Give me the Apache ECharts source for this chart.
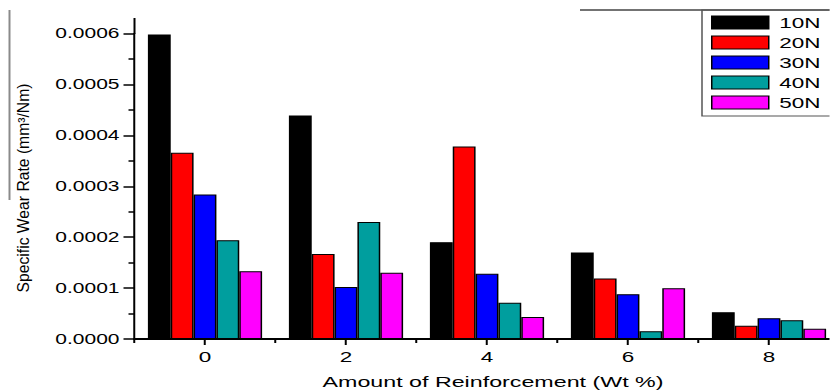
<!DOCTYPE html>
<html><head><meta charset="utf-8">
<script src="https://cdn.jsdelivr.net/npm/echarts@6/dist/echarts.min.js"></script>
<style>
html,body{margin:0;padding:0;background:#fff;overflow:hidden;width:830px;height:392px;}
#chart{width:553.333px;height:392px;transform:scaleX(1.5);transform-origin:0 0;}
</style></head><body><div id="chart"></div>
<script>
// ---- data ----
const categories = ['0', '2', '4', '6', '8'];
const seriesNames = ['10N', '20N', '30N', '40N', '50N'];
const load10N = [0.000598, 0.000439, 0.000190, 0.000170, 0.0000524];
const load20N = [0.000366, 0.000167, 0.000378, 0.000119, 0.0000261];
const load30N = [0.000284, 0.000102, 0.000128, 0.0000878, 0.0000407];
const load40N = [0.000194, 0.000230, 0.0000713, 0.0000151, 0.0000367];
const load50N = [0.000133, 0.000130, 0.0000432, 0.0000996, 0.0000202];
const yMin = 0, yMax = 0.0006, yStep = 0.0001;
const xTitle = 'Amount of Reinforcement (Wt %)';
const yTitle = 'Specific Wear Rate (mm³/Nm)';
const colors = ['#000000', '#ff0000', '#0000ff', '#009e9e', '#ff00ff'];

// ---- rendering ----
const SX = 1.5; // horizontal stretch of the reference picture
const FF = '"Liberation Sans", Arial, sans-serif';
const allData = [load10N, load20N, load30N, load40N, load50N];

const chart = echarts.init(document.getElementById('chart'), null, {renderer: 'svg'});

const series = seriesNames.map((n, i) => ({
  name: n,
  type: 'bar',
  data: allData[i],
  barGap: '0%',
  barCategoryGap: '19%',
  itemStyle: {color: colors[i], borderColor: '#000', borderWidth: 1},
  emphasis: {disabled: true}
}));

chart.setOption({
  animation: false,
  backgroundColor: '#fff',
  grid: {left: 134.5 / SX, width: 705 / SX, top: 33.5, height: 305.5, containLabel: false, outerBoundsMode: 'none'},
  legend: {
    orient: 'vertical', left: 702 / SX, top: 10,
    padding: [5, 20, 6, 6],
    itemWidth: 57 / SX, itemHeight: 13, itemGap: 5,
    icon: 'rect',
    borderColor: '#555', borderWidth: 1,
    itemStyle: {borderColor: '#000', borderWidth: 1},
    textStyle: {fontSize: 15, fontFamily: FF, color: '#000', lineHeight: 13, padding: [0, 0, 0, 2]},
    data: seriesNames
  },
  xAxis: [{
    type: 'category', data: categories, position: 'bottom', boundaryGap: true,
    axisLine: {show: true, lineStyle: {color: '#000', width: 2}},
    axisTick: {show: true, alignWithLabel: true, interval: 0, length: 6, lineStyle: {color: '#000', width: 2 / SX}},
    axisLabel: {show: true, interval: 0, margin: 10, fontSize: 15, color: '#000', fontFamily: FF},
    splitLine: {show: false},
    name: xTitle, nameLocation: 'middle', nameGap: 35,
    nameTextStyle: {fontSize: 15.5, color: '#000', fontFamily: FF, padding: [0, 0, 0, 8]}
  }, {
    type: 'category', data: categories, position: 'bottom', boundaryGap: true,
    axisLine: {show: false},
    axisTick: {show: true, interval: 0, length: 4, lineStyle: {color: '#000', width: 2 / SX}},
    axisLabel: {show: false},
    splitLine: {show: false}
  }],
  yAxis: {
    type: 'value', min: yMin, max: yMax, interval: yStep, position: 'left',
    axisLine: {show: true, lineStyle: {color: '#000', width: 2 / SX}},
    axisTick: {show: true, length: 11 / SX, lineStyle: {color: '#000', width: 1.5}},
    minorTick: {show: true, splitNumber: 2, length: 6 / SX, lineStyle: {color: '#000', width: 1.5}},
    axisLabel: {margin: 15 / SX, fontSize: 14, color: '#000', fontFamily: FF, formatter: v => v.toFixed(4)},
    splitLine: {show: false},
    minorSplitLine: {show: false}
  },
  graphic: [
    {type: 'text', x: 23 / SX, y: 188, rotation: Math.PI / 2, scaleY: 1 / SX,
     style: {text: yTitle, fontSize: 15.7, fontFamily: FF, fill: '#000', align: 'center', verticalAlign: 'middle'}},
    {type: 'line', shape: {x1: 9.5 / SX, y1: 10, x2: 9.5 / SX, y2: 200}, style: {stroke: '#8a8a8a', lineWidth: 2 / SX}},
    {type: 'line', shape: {x1: 580 / SX, y1: 10, x2: 830 / SX, y2: 10}, style: {stroke: '#444', lineWidth: 1.5}},
    {type: 'line', shape: {x1: 134.5 / SX, y1: 18, x2: 134.5 / SX, y2: 34}, style: {stroke: '#000', lineWidth: 2 / SX}}
  ],
  series: series
});
</script></body></html>
